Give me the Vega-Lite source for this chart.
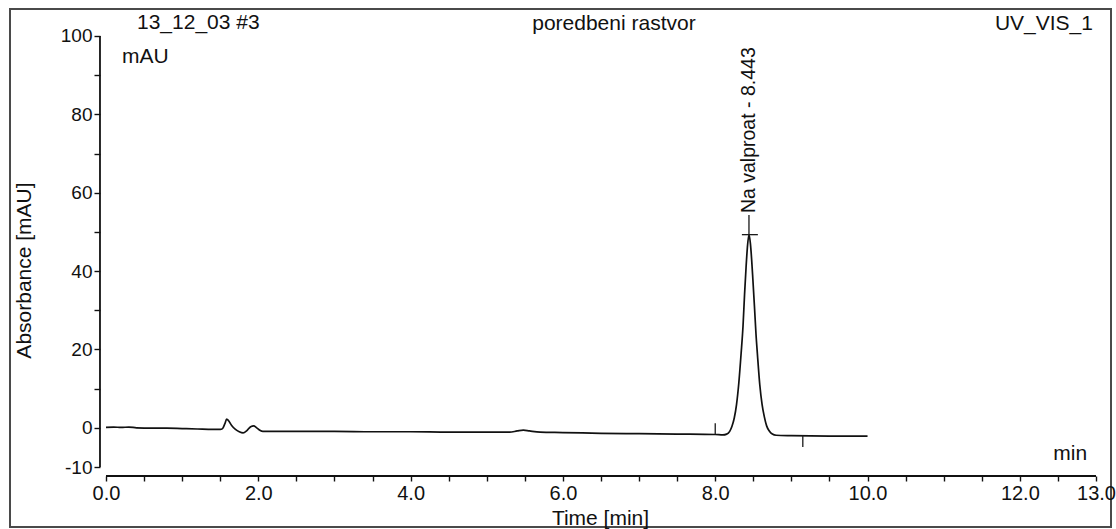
{
  "$schema": "https://vega.github.io/schema/vega-lite/v6.json",
  "width": 1101,
  "height": 518,
  "autosize": {"type": "none"},
  "padding": {"left": 10, "top": 9, "right": 5, "bottom": 2},
  "background": "white",
  "config": {
    "view": {"stroke": "#4a4a4a", "strokeWidth": 2},
    "font": "Liberation Sans"
  },
  "datasets": {
    "trace": [
      {"t": 0.00, "v": 0.1}, {"t": 0.10, "v": 0.2}, {"t": 0.20, "v": 0.1}, {"t": 0.30, "v": 0.2},
      {"t": 0.40, "v": 0.0}, {"t": 0.60, "v": -0.1}, {"t": 0.80, "v": -0.1}, {"t": 1.00, "v": -0.2},
      {"t": 1.20, "v": -0.3}, {"t": 1.40, "v": -0.4}, {"t": 1.50, "v": -0.4}, {"t": 1.53, "v": -0.2},
      {"t": 1.56, "v": 1.0}, {"t": 1.585, "v": 2.2}, {"t": 1.61, "v": 1.8}, {"t": 1.65, "v": 0.6},
      {"t": 1.70, "v": -0.4}, {"t": 1.75, "v": -1.0}, {"t": 1.80, "v": -1.3}, {"t": 1.85, "v": -0.7},
      {"t": 1.90, "v": 0.3}, {"t": 1.94, "v": 0.5}, {"t": 1.98, "v": 0.0}, {"t": 2.02, "v": -0.6},
      {"t": 2.06, "v": -0.9}, {"t": 2.20, "v": -0.9}, {"t": 2.50, "v": -0.9}, {"t": 3.00, "v": -0.9},
      {"t": 3.50, "v": -1.0}, {"t": 4.00, "v": -1.0}, {"t": 4.50, "v": -1.1}, {"t": 5.00, "v": -1.1},
      {"t": 5.30, "v": -1.1}, {"t": 5.40, "v": -0.8}, {"t": 5.48, "v": -0.6}, {"t": 5.56, "v": -0.8},
      {"t": 5.70, "v": -1.1}, {"t": 6.00, "v": -1.2}, {"t": 6.50, "v": -1.4}, {"t": 7.00, "v": -1.5},
      {"t": 7.50, "v": -1.6}, {"t": 8.00, "v": -1.7}, {"t": 8.10, "v": -1.8}, {"t": 8.15, "v": -1.6},
      {"t": 8.19, "v": -0.9}, {"t": 8.22, "v": 0.4}, {"t": 8.25, "v": 2.5}, {"t": 8.28, "v": 6.0},
      {"t": 8.31, "v": 11.5}, {"t": 8.34, "v": 19.0}, {"t": 8.365, "v": 26.0}, {"t": 8.385, "v": 34.0},
      {"t": 8.405, "v": 41.0}, {"t": 8.422, "v": 46.0}, {"t": 8.443, "v": 49.3}, {"t": 8.462, "v": 47.0},
      {"t": 8.478, "v": 43.0}, {"t": 8.494, "v": 38.0}, {"t": 8.515, "v": 31.0}, {"t": 8.535, "v": 24.0},
      {"t": 8.555, "v": 18.5}, {"t": 8.585, "v": 11.0}, {"t": 8.615, "v": 6.0}, {"t": 8.645, "v": 2.8},
      {"t": 8.675, "v": 0.5}, {"t": 8.71, "v": -0.8}, {"t": 8.75, "v": -1.6}, {"t": 8.80, "v": -1.9},
      {"t": 9.00, "v": -2.0}, {"t": 9.50, "v": -2.1}, {"t": 10.00, "v": -2.1}
    ],
    "axislines": [
      {"t": -0.079, "t2": -0.079, "v": -10, "v2": 100},
      {"t": 0, "t2": 13, "v": -12.3, "v2": -12.3}
    ],
    "marks": [
      {"t": 8.0, "t2": 8.0, "v": 1.2, "v2": -1.6},
      {"t": 9.15, "t2": 9.15, "v": -1.8, "v2": -4.9},
      {"t": 8.35, "t2": 8.56, "v": 49.3, "v2": 49.3},
      {"t": 8.443, "t2": 8.443, "v": 49.3, "v2": 54.3}
    ],
    "headers": [
      {"t": 0.407, "v": 101.8, "label": "13_12_03 #3", "pos": "left"},
      {"t": 6.67, "v": 101.6, "label": "poredbeni rastvor", "pos": "center"},
      {"t": 12.96, "v": 101.6, "label": "UV_VIS_1", "pos": "right"},
      {"t": 0.21, "v": 93.1, "label": "mAU", "pos": "left"},
      {"t": 12.44, "v": -8.2, "label": "min", "pos": "left"}
    ],
    "peaks": [
      {"t": 8.443, "v": 54.8, "label": "Na valproat - 8.443"}
    ]
  },
  "layer": [
    {
      "data": {"name": "trace"},
      "mark": {"type": "line", "color": "#111", "strokeWidth": 1.7, "interpolate": "monotone"},
      "encoding": {
        "x": {
          "field": "t", "type": "quantitative",
          "scale": {"domain": [-1.2606, 13.197], "nice": false, "zero": false},
          "axis": {
            "values": [0,0.5,1,1.5,2,2.5,3,3.5,4,4.5,5,5.5,6,6.5,7,7.5,8,8.5,9,9.5,10,10.5,11,11.5,12,12.5,13],
            "labelExpr": "datum.value % 2 === 0 || datum.value === 13 ? format(datum.value, '.1f') : ''",
            "offset": -51, "domain": false, "grid": false,
            "tickSize": 5, "tickColor": "#111", "tickWidth": 1.4,
            "labelFont": "Liberation Sans", "labelFontSize": 20, "labelColor": "#111", "labelPadding": 2,
            "labelOverlap": false, "labelFlush": false,
            "title": "Time [min]", "titleFont": "Liberation Sans", "titleFontSize": 21, "titleFontWeight": "normal",
            "titleColor": "#111", "titleX": 590, "titleY": 48, "titleBaseline": "alphabetic", "titleAlign": "center"
          }
        },
        "y": {
          "field": "v", "type": "quantitative",
          "scale": {"domain": [-25.31, 106.89], "nice": false, "zero": false},
          "axis": {
            "values": [-10,-5,0,5,10,15,20,25,30,35,40,45,50,55,60,65,70,75,80,85,90,95,100],
            "labelExpr": "datum.value === -10 ? '-10' : (datum.value % 20 === 0 ? datum.label : '')",
            "offset": -90, "domain": false, "grid": false,
            "tickSize": 6, "tickColor": "#111", "tickWidth": 1.4,
            "labelFont": "Liberation Sans", "labelFontSize": 19, "labelColor": "#111", "labelPadding": 2,
            "labelOverlap": false, "labelFlush": false,
            "title": "Absorbance [mAU]", "titleFont": "Liberation Sans", "titleFontSize": 21, "titleFontWeight": "normal",
            "titleColor": "#111", "titleAngle": 270, "titleX": -70, "titleY": 261, "titleBaseline": "alphabetic", "titleAlign": "center"
          }
        }
      }
    },
    {
      "data": {"name": "axislines"},
      "mark": {"type": "rule", "color": "#111", "strokeWidth": 1.8},
      "encoding": {
        "x": {"field": "t", "type": "quantitative"},
        "x2": {"field": "t2"},
        "y": {"field": "v", "type": "quantitative"},
        "y2": {"field": "v2"}
      }
    },
    {
      "data": {"name": "marks"},
      "mark": {"type": "rule", "color": "#1a1a1a", "strokeWidth": 1.3},
      "encoding": {
        "x": {"field": "t", "type": "quantitative"},
        "x2": {"field": "t2"},
        "y": {"field": "v", "type": "quantitative"},
        "y2": {"field": "v2"}
      }
    },
    {
      "data": {"name": "headers"},
      "transform": [{"filter": "datum.pos === 'left'"}],
      "mark": {"type": "text", "align": "left", "baseline": "alphabetic", "fontSize": 21, "color": "#111", "font": "Liberation Sans"},
      "encoding": {
        "x": {"field": "t", "type": "quantitative"},
        "y": {"field": "v", "type": "quantitative"},
        "text": {"field": "label"}
      }
    },
    {
      "data": {"name": "headers"},
      "transform": [{"filter": "datum.pos === 'center'"}],
      "mark": {"type": "text", "align": "center", "baseline": "alphabetic", "fontSize": 21, "color": "#111", "font": "Liberation Sans"},
      "encoding": {
        "x": {"field": "t", "type": "quantitative"},
        "y": {"field": "v", "type": "quantitative"},
        "text": {"field": "label"}
      }
    },
    {
      "data": {"name": "headers"},
      "transform": [{"filter": "datum.pos === 'right'"}],
      "mark": {"type": "text", "align": "right", "baseline": "alphabetic", "fontSize": 21, "color": "#111", "font": "Liberation Sans"},
      "encoding": {
        "x": {"field": "t", "type": "quantitative"},
        "y": {"field": "v", "type": "quantitative"},
        "text": {"field": "label"}
      }
    },
    {
      "data": {"name": "peaks"},
      "mark": {"type": "text", "align": "left", "baseline": "middle", "angle": 270, "fontSize": 19.5, "color": "#111", "font": "Liberation Sans"},
      "encoding": {
        "x": {"field": "t", "type": "quantitative"},
        "y": {"field": "v", "type": "quantitative"},
        "text": {"field": "label"}
      }
    }
  ]
}
